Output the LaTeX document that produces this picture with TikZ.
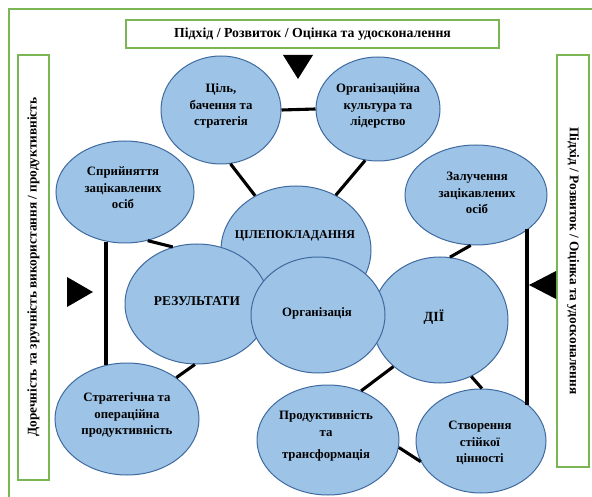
\documentclass[tikz,border=0pt]{standalone}
\usepackage{fontspec}
\setmainfont{Liberation Serif}
\usetikzlibrary{shapes.geometric}
\definecolor{bubfill}{HTML}{9DC3E6}
\definecolor{bubline}{HTML}{3F6AA0}
\definecolor{frgreen}{HTML}{7BB655}
\begin{document}
\begin{tikzpicture}[x=1pt,y=-1pt,
  bub/.style={ellipse, draw=bubline, fill=bubfill, line width=1pt, inner sep=0pt},
  btxt/.style={align=center, font=\fontsize{12.8}{16.5}\selectfont\bfseries, inner sep=0pt},
  conn/.style={line width=3.1pt, black},
  gbox/.style={draw=frgreen, line width=1.6pt, fill=white, inner sep=0pt},
  sidetxt/.style={font=\fontsize{13.3}{16}\selectfont\bfseries, inner sep=0pt},
  tri/.style={fill=black}]
\useasboundingbox (0,0) rectangle (592,497);
\fill[white] (0,0) rectangle (592,497);
% outer frame
\coordinate (fr1) at (9,497);
\coordinate (fr2) at (9,9);
\coordinate (fr3) at (592,9);
\draw[frgreen, line width=1.4pt] (fr1) -- (fr2) -- (fr3);
% boxes
\node[gbox, minimum width=373, minimum height=28, font=\fontsize{13.8}{15}\selectfont\bfseries] (topbox) at (312.5,34) {Підхід / Розвиток / Оцінка та удосконалення};
\node[gbox, minimum width=31, minimum height=425] (lbox) at (33.5,267.5) {};
\node[sidetxt, rotate=90] (ltxt) at (33.5,267) {Доречність та зручність використання / продуктивність};
\node[gbox, minimum width=32, minimum height=412] (rbox) at (573,261) {};
\node[sidetxt, rotate=-90] (rtxt) at (573,261) {Підхід / Розвиток / Оцінка та удосконалення};
% triangles
\fill[tri] (283,55) -- (313,55) -- (298,79) -- cycle;
\fill[tri] (67,277) -- (67,307) -- (93,292) -- cycle;
\fill[tri] (556,271) -- (556,299) -- (529,285) -- cycle;
% ellipses
\node[bub, minimum width=120, minimum height=108] (cil) at (221,110) {};
\node[bub, minimum width=124, minimum height=104] (orgk) at (378,109) {};
\node[bub, minimum width=138, minimum height=102] (spr) at (125,192) {};
\node[bub, minimum width=142, minimum height=100] (zal) at (476,195) {};
\node[bub, minimum width=144, minimum height=112] (str) at (127,419) {};
\node[bub, minimum width=142, minimum height=110] (prod) at (328,440) {};
\node[bub, minimum width=130, minimum height=104] (stv) at (481,441) {};
\node[bub, minimum width=150, minimum height=128] (cile) at (296,250) {};
\node[bub, minimum width=136, minimum height=126] (dii) at (440,320) {};
\node[bub, minimum width=144, minimum height=120] (res) at (197,304) {};
\node[bub, minimum width=134, minimum height=116] (orgz) at (318,315) {};
% connectors
\draw[conn] (cil.east) -- (orgk.west);
\draw[conn] (cil.-80) -- (cile.127);
\draw[conn] (orgk.-104) -- (cile.54);
\draw[conn] (spr.-65) -- (res.113);
\draw[conn] (res.-92) -- (str.40);
\draw[conn] (zal.-96) -- (dii.81);
\draw[conn] (dii.225) -- (prod.56);
\draw[conn] (dii.-61) -- (stv.89);
\draw[conn] (prod.-6) -- (stv.199);
\coordinate (lv1) at (106,242);
\coordinate (lv2) at (106,365);
\draw[conn] (lv1) -- (lv2);
\coordinate (rv1) at (527,229);
\coordinate (rv2) at (527,405);
\draw[conn] (rv1) -- (rv2);
% texts
\node[btxt] (cilt) at (221,106) {Ціль,\\бачення та\\стратегія};
\node[btxt] (orgkt) at (378,106) {Організаційна\\культура та\\лідерство};
\node[btxt] (sprt) at (123,188) {Сприйняття\\зацікавлених\\осіб};
\node[btxt] (zalt) at (477,193) {Залучення\\зацікавлених\\осіб};
\node[btxt] (strt) at (127,415) {Стратегічна та\\операційна\\продуктивність};
\node[btxt] (prodt) at (326,436) {Продуктивність\\та\\[6pt]трансформація};
\node[btxt] (stvt) at (480,443) {Створення\\стійкої\\цінності};
\node[btxt, font=\fontsize{12}{14}\selectfont\bfseries] (cilet) at (295,236) {ЦІЛЕПОКЛАДАННЯ};
\node[btxt, font=\fontsize{13.4}{15}\selectfont\bfseries] (rest) at (197,301) {РЕЗУЛЬТАТИ};
\node[btxt] (orgzt) at (317,313) {Організація};
\node[btxt, font=\fontsize{14}{16}\selectfont\bfseries] (diit) at (434,317) {ДІЇ};
\end{tikzpicture}
\end{document}
